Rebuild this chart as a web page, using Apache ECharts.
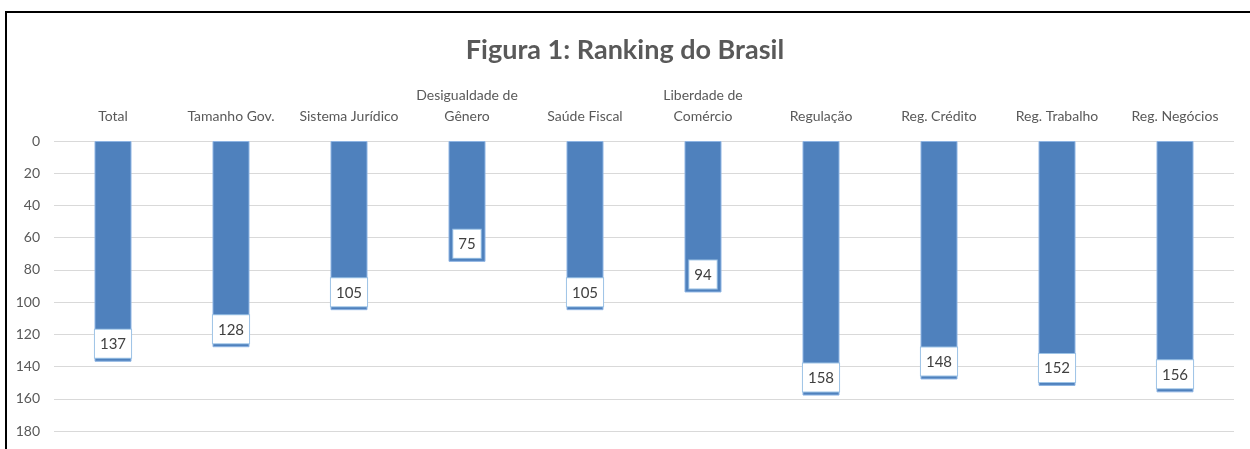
<!DOCTYPE html>
<html>
<head>
<meta charset="utf-8">
<script src="https://cdn.jsdelivr.net/npm/echarts@6/dist/echarts.min.js"></script>
<style>
  html, body { margin: 0; padding: 0; background: #fff; }
  #chart { width: 1250px; height: 449px; }
</style>
</head>
<body>
<div id="chart"></div>
<script>
var categories = ['Total', 'Tamanho Gov.', 'Sistema Jurídico', 'Desigualdade de\nGênero', 'Saúde Fiscal',
                  'Liberdade de\nComércio', 'Regulação', 'Reg. Crédito', 'Reg. Trabalho', 'Reg. Negócios'];
var ranking = [137, 128, 105, 75, 105, 94, 158, 148, 152, 156];
var yTicks = { min: 0, max: 180, interval: 20 };

(function () {
    var font = 'Lato, "Open Sans", sans-serif';
    var textColor = '#595959';
    var chart = echarts.init(document.getElementById('chart'));

    chart.setOption({
        animation: false,
        title: {
            text: 'Figura 1: Ranking do Brasil',
            left: 'center',
            top: 32,
            textStyle: { fontFamily: font, fontSize: 27, fontWeight: 'bold', color: textColor }
        },
        graphic: [{
            type: 'polyline',
            shape: { points: [[6, 449], [6, 12], [1250, 12]] },
            style: { stroke: '#000', lineWidth: 2, fill: null }
        }],
        grid: { left: 54, right: 16, top: 141, bottom: 18 },
        xAxis: {
            type: 'category',
            position: 'top',
            data: categories,
            axisLine: { show: false },
            axisTick: { show: false },
            axisLabel: {
                margin: 14,
                interval: 0,
                fontFamily: font,
                fontSize: 14,
                lineHeight: 21,
                color: textColor
            }
        },
        yAxis: {
            type: 'value',
            inverse: true,
            min: yTicks.min,
            max: yTicks.max,
            interval: yTicks.interval,
            axisLine: { show: false },
            axisTick: { show: false },
            splitLine: { lineStyle: { color: '#d9d9d9', width: 1 } },
            axisLabel: { margin: 14, fontFamily: font, fontSize: 14, color: textColor }
        },
        series: [{
            type: 'bar',
            data: ranking,
            barWidth: 37,
            itemStyle: { color: '#4f81bd', borderColor: '#8eb4e3', borderWidth: 1 },
            label: {
                show: true,
                position: 'insideBottom',
                distance: 4,
                fontFamily: font,
                fontSize: 15,
                color: '#404040',
                backgroundColor: '#fff',
                borderColor: '#9dc3e6',
                borderWidth: 1,
                padding: [7, 5, 6, 5]
            }
        }]
    });
})();
</script>
</body>
</html>
